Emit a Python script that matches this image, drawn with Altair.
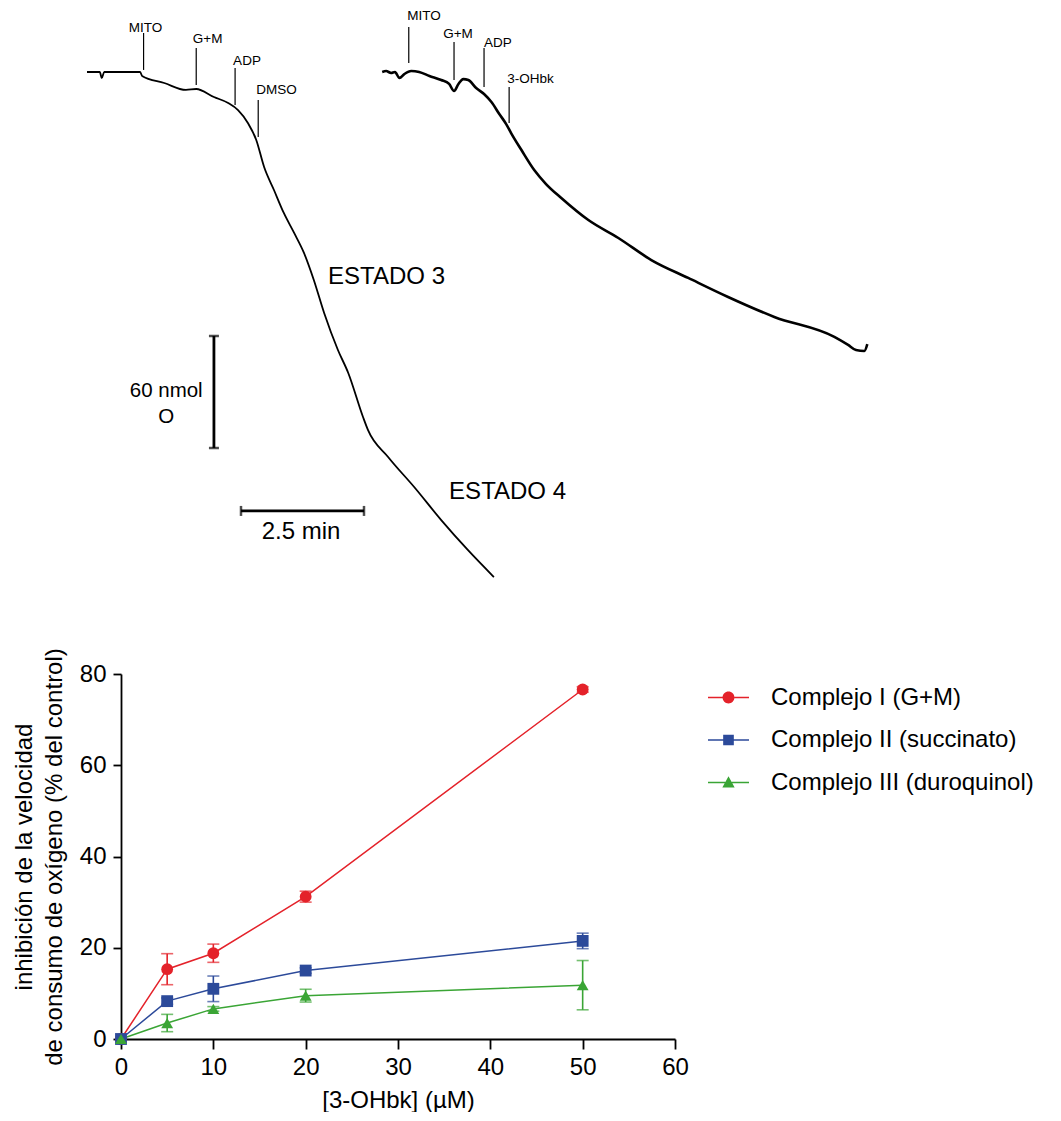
import altair as alt
import pandas as pd

FONT = "Liberation Sans"

# ---------------- top panel: oxygen electrode recordings ----------------
# control recording (vehicle DMSO): time (min) vs oxygen consumed (nmol O)
ctrl_time = [0.00, 0.26, 0.30, 0.35, 1.08, 1.12, 1.57, 2.01, 2.22, 2.58, 2.87, 3.07,
             3.27, 3.44, 3.60, 3.80, 4.00, 4.21, 4.41, 4.61, 4.82, 5.10, 5.31, 5.61,
             5.71, 6.12, 6.65, 7.20, 7.74, 8.27]
ctrl_o2 = [0.0, 0.0, 3.2, 0.0, 0.0, 2.1, 5.9, 9.6, 9.1, 13.4, 16.6, 20.4,
           27.3, 36.4, 50.9, 63.2, 75.5, 86.2, 96.9, 111.4, 129.1, 148.9, 161.2, 184.8,
           191.7, 206.2, 222.3, 240.0, 256.0, 270.5]

# 3-OHbk recording
ohbk_time = [0.00, 0.08, 0.18, 0.26, 0.35, 0.45, 0.59, 0.75, 0.96, 1.20, 1.36, 1.46,
             1.55, 1.65, 1.75, 1.91, 2.07, 2.22, 2.38, 2.52, 2.62, 2.83, 3.09, 3.33,
             3.64, 4.19, 4.80, 5.47, 6.22, 7.03, 7.97, 9.19, 9.47, 9.63, 9.80, 9.86]
ohbk_o2 = [0.0, -0.5, 0.5, 0.0, 3.2, 1.1, -0.5, 0.0, 2.1, 4.3, 6.4, 10.2,
           6.4, 3.8, 4.3, 8.6, 11.8, 16.1, 22.5, 27.9, 32.7, 41.8, 52.5, 60.0,
           67.5, 79.3, 88.9, 100.7, 110.3, 120.5, 131.2, 141.9, 146.2, 148.9, 149.4, 145.7]
OHBK_START = 6.0  # where the second recording is placed on the time axis (min)

# additions
ctrl_events = ["MITO", "G+M", "ADP", "DMSO"]
ctrl_event_time = [1.15, 2.22, 3.01, 3.48]
ctrl_event_top = [-20.9, -12.9, -2.1, 15.0]
ctrl_event_bottom = [-1.1, 7.0, 17.7, 34.8]
ctrl_label_time = [0.85, 2.15, 2.97, 3.44]
ctrl_label_o2 = [-21.6, -15.4, -3.8, 11.8]

ohbk_events = ["MITO", "G+M", "ADP", "3-OHbk"]
ohbk_event_time = [0.54, 1.46, 2.07, 2.58]
ohbk_event_top = [-24.1, -16.1, -12.9, 8.0]
ohbk_event_bottom = [-4.8, 4.3, 8.0, 27.3]
ohbk_label_time = [0.51, 1.24, 2.07, 2.54]
ohbk_label_o2 = [-27.9, -18.0, -13.6, 6.0]

# calibration bars
bar_nmol = 60.0
bar_min = 2.5
vbar_time, vbar_o2 = 2.58, 141.4
hbar_time, hbar_o2 = 3.13, 235.1
scale_labels = ["60 nmol\nO", "2.5 min"]
scale_label_time = [1.61, 4.35]
scale_label_o2 = [170.9, 246.4]
scale_label_size = [20.5, 24]

state_labels = ["ESTADO 3", "ESTADO 4"]
state_time = [4.90, 7.36]
state_o2 = [109.8, 225.0]

# ---------------- bottom panel: inhibition curves ----------------
conc = [0, 5, 10, 20, 50]
series_names = ["Complejo I (G+M)", "Complejo II (succinato)", "Complejo III (duroquinol)"]
series_mean = [
    [0, 15.3, 18.8, 31.2, 76.6],
    [0, 8.3, 11.0, 15.0, 21.5],
    [0, 3.5, 6.6, 9.5, 11.8],
]
series_sem = [
    [0, 3.4, 2.0, 1.2, 0.6],
    [0, 0.7, 2.8, 0.6, 1.7],
    [0, 1.9, 0.5, 1.4, 5.4],
]
series_colors = ["#e4222a", "#2c4a9a", "#3aa535"]
series_shapes = ["circle", "square", "triangle-up"]
legend_paths = [
    "M-1,-0.04H-0.29V0.04H-1Z M0.29,-0.04H1V0.04H0.29Z M-0.29,0A0.29,0.29 0 1,0 0.29,0A0.29,0.29 0 1,0 -0.29,0Z",
    "M-1,-0.04H-0.26V0.04H-1Z M0.26,-0.04H1V0.04H0.26Z M-0.26,-0.26H0.26V0.26H-0.26Z",
    "M-1,-0.04H-0.16V0.04H-1Z M0.16,-0.04H1V0.04H0.16Z M0,-0.3L0.3,0.24H-0.3Z",
]

# ---------------- layout constants ----------------
PX_PER_MIN = 49.2
PX_PER_NMOL = 1.867
TOP_W, TOP_H = 800, 674
BOT_W, BOT_H = 554, 365
X0 = 34 / PX_PER_MIN
X1 = X0 + TOP_W / PX_PER_MIN
Y0 = -72 / PX_PER_NMOL
Y1 = Y0 + TOP_H / PX_PER_NMOL


def xq(field):
    return alt.X(f"{field}:Q", scale=alt.Scale(domain=[X0, X1], nice=False, zero=False), axis=None)


def yq(field):
    return alt.Y(f"{field}:Q", scale=alt.Scale(domain=[Y0, Y1], nice=False, zero=False, reverse=True), axis=None)


ctrl_df = pd.DataFrame({"t": ctrl_time, "o": ctrl_o2})
ohbk_df = pd.DataFrame({"t": [t + OHBK_START for t in ohbk_time], "o": ohbk_o2})

ev_df = pd.DataFrame({
    "name": ctrl_events + ohbk_events,
    "t": ctrl_event_time + [t + OHBK_START for t in ohbk_event_time],
    "top": ctrl_event_top + ohbk_event_top,
    "bottom": ctrl_event_bottom + ohbk_event_bottom,
    "lt": ctrl_label_time + [t + OHBK_START for t in ohbk_label_time],
    "lo": ctrl_label_o2 + ohbk_label_o2,
})

vbar_df = pd.DataFrame({"t": [vbar_time], "o1": [vbar_o2], "o2": [vbar_o2 + bar_nmol]})
vcap_df = pd.DataFrame({"t": [vbar_time, vbar_time], "o": [vbar_o2, vbar_o2 + bar_nmol]})
hbar_df = pd.DataFrame({"t1": [hbar_time], "t2": [hbar_time + bar_min], "o": [hbar_o2]})
hcap_df = pd.DataFrame({"t": [hbar_time, hbar_time + bar_min], "o": [hbar_o2, hbar_o2]})
scale_df = pd.DataFrame({"label": scale_labels, "t": scale_label_time, "o": scale_label_o2,
                         "size": scale_label_size})
state_df = pd.DataFrame({"label": state_labels, "t": state_time, "o": state_o2})

trace_ctrl = alt.Chart(ctrl_df).mark_line(color="black", strokeWidth=1.8, interpolate="monotone").encode(
    x=xq("t"), y=yq("o"))
trace_ohbk = alt.Chart(ohbk_df).mark_line(color="black", strokeWidth=2.6, interpolate="monotone").encode(
    x=xq("t"), y=yq("o"))
ev_rules = alt.Chart(ev_df).mark_rule(color="black", strokeWidth=1.2).encode(
    x=xq("t"), y=yq("top"), y2="bottom")
ev_text = alt.Chart(ev_df).mark_text(align="left", baseline="alphabetic", fontSize=13.5,
                                     font=FONT, color="black").encode(
    x=xq("lt"), y=yq("lo"), text="name:N")
vbar = alt.Chart(vbar_df).mark_rule(color="black", strokeWidth=2.8).encode(x=xq("t"), y=yq("o1"), y2="o2")
vcap = alt.Chart(vcap_df).mark_tick(orient="horizontal", size=10, thickness=2.5, color="black").encode(
    x=xq("t"), y=yq("o"))
hbar = alt.Chart(hbar_df).mark_rule(color="black", strokeWidth=2.8).encode(x=xq("t1"), x2="t2", y=yq("o"))
hcap = alt.Chart(hcap_df).mark_tick(orient="vertical", size=10, thickness=2.5, color="black").encode(
    x=xq("t"), y=yq("o"))
scale_text = alt.Chart(scale_df).mark_text(align="center", baseline="middle", font=FONT,
                                           color="black", lineBreak="\n", lineHeight=26).encode(
    x=xq("t"), y=yq("o"), text="label:N", size=alt.Size("size:Q", scale=None, legend=None))
state_text = alt.Chart(state_df).mark_text(align="left", baseline="middle", fontSize=24, font=FONT,
                                           color="black").encode(
    x=xq("t"), y=yq("o"), text="label:N")

top = alt.layer(trace_ctrl, trace_ohbk, ev_rules, ev_text, vbar, vcap, hbar, hcap,
                scale_text, state_text).properties(width=TOP_W, height=TOP_H)

# bottom chart
rows = []
for name, means, sems in zip(series_names, series_mean, series_sem):
    for c, m, s in zip(conc, means, sems):
        rows.append({"series": name, "conc": c, "mean": m, "lo": m - s, "hi": m + s, "sem": s})
df = pd.DataFrame(rows)
err_df = df[df["sem"] > 0]

X = alt.X("conc:Q", scale=alt.Scale(domain=[0, 60], nice=False),
          axis=alt.Axis(values=[0, 10, 20, 30, 40, 50, 60], title="[3-OHbk] (µM)", titlePadding=9,
                        labelPadding=6, tickSize=10, labelFlush=False))
Y = alt.Y("mean:Q", scale=alt.Scale(domain=[0, 80], nice=False),
          axis=alt.Axis(values=[0, 20, 40, 60, 80], tickSize=8, labelPadding=7, titlePadding=13,
                        labelFlush=False,
                        title=["inhibición de la velocidad", "de consumo de oxígeno (% del control)"],
                        titleLineHeight=30))
color_scale = alt.Scale(domain=series_names, range=series_colors)

lines = alt.Chart(df).mark_line(strokeWidth=1.5).encode(
    x=X, y=Y, color=alt.Color("series:N", scale=color_scale, legend=None))
err_rule = alt.Chart(err_df).mark_rule(strokeWidth=1.6).encode(
    x="conc:Q", y="lo:Q", y2="hi:Q", color=alt.Color("series:N", scale=color_scale, legend=None))
cap_lo = alt.Chart(err_df).mark_tick(orient="horizontal", size=12, thickness=1.6).encode(
    x="conc:Q", y="lo:Q", color=alt.Color("series:N", scale=color_scale, legend=None))
cap_hi = alt.Chart(err_df).mark_tick(orient="horizontal", size=12, thickness=1.6).encode(
    x="conc:Q", y="hi:Q", color=alt.Color("series:N", scale=color_scale, legend=None))
points = alt.Chart(df).mark_point(filled=True, size=140, opacity=1).encode(
    x="conc:Q", y="mean:Q", color=alt.Color("series:N", scale=color_scale, legend=None),
    shape=alt.Shape("series:N", scale=alt.Scale(domain=series_names, range=series_shapes), legend=None))

leg_kw = dict(orient="none", legendX=587, legendY=3, title=None, labelFontSize=24, labelFont=FONT,
              labelColor="black", symbolSize=1681, labelOffset=22, rowPadding=9.5, padding=0,
              symbolStrokeWidth=0, labelLimit=400)
legend_layer = alt.Chart(df).transform_filter("datum.conc < -1").mark_point(filled=True, opacity=1).encode(
    x="conc:Q", y="mean:Q",
    color=alt.Color("series:N", scale=alt.Scale(domain=series_names, range=series_colors),
                    legend=alt.Legend(**leg_kw)),
    shape=alt.Shape("series:N", scale=alt.Scale(domain=series_names, range=legend_paths),
                    legend=alt.Legend(**leg_kw)))

bottom = alt.layer(lines, err_rule, cap_lo, cap_hi, points, legend_layer).resolve_scale(
    color="independent", shape="independent").properties(width=BOT_W, height=BOT_H)

chart = alt.vconcat(top, bottom, spacing=0, bounds="flush").properties(
    padding={"left": 12, "top": 0, "right": 0, "bottom": 0}
).configure_view(stroke=None).configure_axis(
    grid=False, domainColor="black", tickColor="black", domainWidth=1.8, tickWidth=1.8,
    labelColor="black", titleColor="black", labelFont=FONT, titleFont=FONT,
    labelFontSize=24, titleFontSize=24, titleFontWeight="normal"
)

chart.save("out.html", embed_options={"renderer": "svg", "actions": False})
